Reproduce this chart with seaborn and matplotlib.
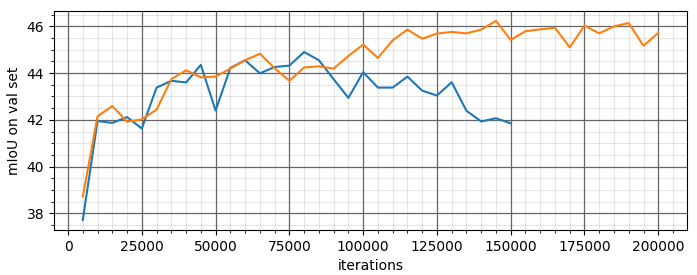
import numpy as np
import pandas as pd
import matplotlib
matplotlib.use("Agg")
import matplotlib.pyplot as plt
import seaborn as sns
from matplotlib.ticker import AutoMinorLocator

iters_a = list(range(5000, 150001, 5000))
miou_a = [37.72, 41.95, 41.87, 42.12, 41.63, 43.38, 43.67, 43.60, 44.35, 42.40,
          44.22, 44.55, 43.99, 44.26, 44.32, 44.90, 44.55, 43.74, 42.94, 44.04,
          43.38, 43.38, 43.85, 43.25, 43.04, 43.61, 42.39, 41.93, 42.07, 41.85]

iters_b = list(range(5000, 200001, 5000))
miou_b = [38.72, 42.15, 42.59, 41.92, 42.02, 42.44, 43.74, 44.12, 43.82, 43.85,
          44.19, 44.55, 44.83, 44.21, 43.67, 44.24, 44.29, 44.19, 44.73, 45.22,
          44.65, 45.40, 45.86, 45.47, 45.69, 45.76, 45.70, 45.86, 46.23, 45.42,
          45.79, 45.87, 45.94, 45.10, 46.03, 45.70, 46.00, 46.14, 45.17, 45.72]

df_a = pd.DataFrame({"iterations": iters_a, "mIoU": miou_a})
df_b = pd.DataFrame({"iterations": iters_b, "mIoU": miou_b})

fig = plt.figure(figsize=(6.97, 2.75), dpi=100)
ax = fig.add_axes([0.0775, 0.164, 0.9082, 0.796])

sns.lineplot(data=df_a, x="iterations", y="mIoU", ax=ax, color="#1f77b4", linewidth=1.5)
sns.lineplot(data=df_b, x="iterations", y="mIoU", ax=ax, color="#ff7f0e", linewidth=1.5)

ax.xaxis.set_minor_locator(AutoMinorLocator(5))
ax.yaxis.set_minor_locator(AutoMinorLocator(4))
ax.grid(which="major", color="#666666", linewidth=0.9)
ax.grid(which="minor", color="black", alpha=0.1, linewidth=0.8)
ax.set_axisbelow(True)
ax.set_xlabel("iterations")
ax.set_ylabel("mIoU on val set")

fig.savefig("out.png", dpi=100)
